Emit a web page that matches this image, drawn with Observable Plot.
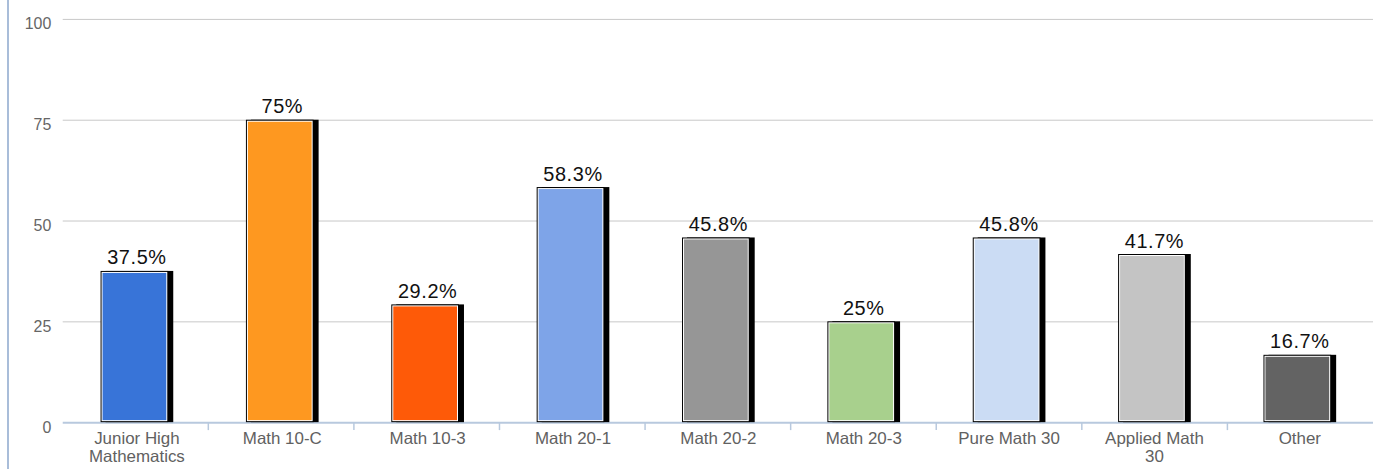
<!DOCTYPE html>
<html>
<head>
<meta charset="utf-8">
<script src="https://cdn.jsdelivr.net/npm/d3@7"></script>
<script src="https://cdn.jsdelivr.net/npm/@observablehq/plot@0.6"></script>
<style>
  html, body { margin: 0; padding: 0; background: #fff; overflow: hidden; }
  #wrap { position: relative; width: 1373px; height: 469px; overflow: hidden; }
  #edge { position: absolute; left: 7px; top: 0; width: 2px; height: 469px; background: #a9bdd9; }
  #chart { position: absolute; left: 0; top: 0; }
</style>
</head>
<body>
<div id="wrap"><div id="chart"></div><div id="edge"></div></div>
<script>
const categories = ["Junior High\nMathematics", "Math 10-C", "Math 10-3", "Math 20-1", "Math 20-2", "Math 20-3", "Pure Math 30", "Applied Math\n30", "Other"];
const values = [37.5, 75, 29.2, 58.3, 45.8, 25, 45.8, 41.7, 16.7];
const colors = ["#3874d8", "#fe9820", "#fe5a08", "#7ea4e8", "#969696", "#a8d08d", "#cbdcf4", "#c4c4c4", "#636363"];
const yTicks = [0, 25, 50, 75, 100];

const data = categories.map((c, i) => ({cat: c, value: values[i], color: colors[i], label: values[i] + "%"}));

const font = "'Liberation Sans', Arial, sans-serif";

const chart = Plot.plot({
  width: 1379,
  height: 469,
  marginTop: 19,
  marginBottom: 45,
  marginLeft: 63,
  marginRight: 0,
  style: {fontFamily: font, fontSize: "16px", color: "#666", background: "transparent", overflow: "visible"},
  x: {domain: categories, paddingInner: 0.535, paddingOuter: 0.2675, axis: null},
  y: {domain: [0, 100], ticks: yTicks, tickSize: 0, tickPadding: 12, label: null, grid: false},
  marks: [
    Plot.ruleY(yTicks.filter(d => d > 0), {stroke: "#c8c8c8", strokeWidth: 1}),
    Plot.ruleY([0], {stroke: "#b8c9de", strokeWidth: 2}),
    Plot.barY(data, {x: "cat", y: "value", fill: "#000", dx: 3}),
    Plot.barY(data, {x: "cat", y: "value", fill: "#000", dx: -2}),
    Plot.barY(data, {x: "cat", y: "value", fill: "#fff", dx: -2, inset: 1}),
    Plot.barY(data, {x: "cat", y: "value", fill: "color", dx: -2, inset: 2}),
    Plot.text(data, {x: "cat", y: "value", text: "label", dy: -7, lineAnchor: "bottom", fontSize: 20, fill: "#111"}),
    Plot.text(data, {x: "cat", text: "cat", frameAnchor: "bottom", lineAnchor: "top", dy: 9, lineHeight: 1.04, fontSize: 17, fill: "#616161"})
  ]
});

// value labels: slightly wider setting as in the reference
d3.select(chart).selectAll("g[aria-label='text']").filter((d, i) => i === 0).attr("letter-spacing", "0.6px");
d3.select(chart).selectAll("g[aria-label='y-axis tick label'] text, g[aria-label='y-axis'] text").attr("dy", "0.3em");

// separators at band boundaries, positioned with the x scale
const xs = chart.scale("x");
const ys = chart.scale("y");
const xscale = d3.scaleBand().domain(xs.domain).range(xs.range)
  .paddingInner(xs.paddingInner ?? 0.535).paddingOuter(xs.paddingOuter ?? 0.2675).align(xs.align ?? 0.5);
const step = xscale.step();
const y0 = d3.scaleLinear().domain(ys.domain).range(ys.range)(0);
const bounds = categories.slice(1).map(c => xscale(c) + xscale.bandwidth() / 2 - step / 2);
d3.select(chart).append("g").selectAll("line").data(bounds).join("line")
  .attr("x1", d => d).attr("x2", d => d)
  .attr("y1", y0).attr("y2", y0 + 8)
  .attr("stroke", "#b8c9de").attr("stroke-width", 1.5);

document.getElementById("chart").appendChild(chart);
</script>
</body>
</html>
